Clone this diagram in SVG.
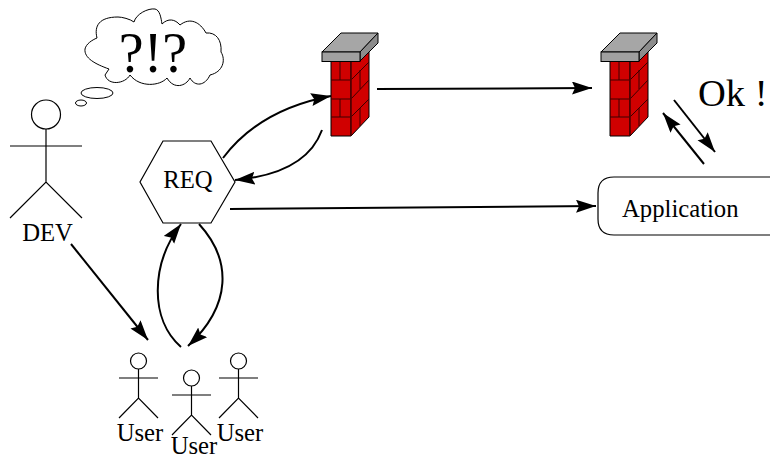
<svg xmlns="http://www.w3.org/2000/svg" width="770" height="459" viewBox="0 0 770 459">
<style>
text{font-family:"Liberation Serif","Times New Roman",serif;fill:#000}
.l{fill:none;stroke:#000;stroke-width:1.2}
.c{fill:none;stroke:#000;stroke-width:2}
.m{fill:none;stroke:#6b0000;stroke-width:1.1}
</style>
<defs>
<marker id="a" markerUnits="userSpaceOnUse" markerWidth="22" markerHeight="14" refX="20" refY="6.500" orient="auto"><path d="M0 0L20 6.500L0 13L3 6.500Z" fill="#000"/></marker>
<g id="wall">
<path d="M31 41H51V116H31Z" fill="#d00000" stroke="#000"/>
<path d="M51 116L69 97V32H51Z" fill="#d00000" stroke="#000"/>
<path d="M31 60H51M31 79H51M31 97H51M40 41V60M40 79V97M51 60L69 42M51 79L69 60M51 97L69 79M60 50V69M60 88V106" stroke="#3a0000" stroke-width="1" fill="none"/>
<path d="M51 41V116" class="m"/>
<path d="M22 32L41 13H78L60 32Z" fill="#a6a6a6" stroke="#000"/>
<path d="M60 32L78 13V23L60 41Z" fill="#8c8c8c" stroke="#000"/>
<rect x="22" y="32" width="38" height="9.500" fill="#a0a0a0" stroke="#000"/>
</g>
<g id="u"><circle cx="0" cy="8" r="8" class="l"/><path d="M0 16V45M-19.500 25H19.500M-19.500 65L0 45L19.500 65" class="l"/></g>
</defs>
<g id="connectors">
<path d="M71 244L148 340" class="c" marker-end="url(#a)"/>
<path d="M223 158C248 125 283 105 331 96" class="c" marker-end="url(#a)"/>
<path d="M322 130C311 160 280 176 235 180" class="c" marker-end="url(#a)"/>
<path d="M230 209L596 206" class="c" marker-end="url(#a)"/>
<path d="M377 89L592 88" class="c" marker-end="url(#a)"/>
<path d="M181 347C150 320 150 265 181 224" class="c" marker-end="url(#a)"/>
<path d="M199 224C232 260 232 305 188 346" class="c" marker-end="url(#a)"/>
<path d="M704 164L663 113" class="c" marker-end="url(#a)"/>
<path d="M674 100L715 152" class="c" marker-end="url(#a)"/>
</g>
<g id="cloud">
<path d="M109 69C95 64 84 58 85 49C86 44 92 40 97 38C94 26 99 17 118 17C122 17 130 19 134 22C136 14 148 8 155 9C160 10 161 18 162 24C168 18 175 19 180 25C190 17 200 22 206 33C216 32 222 40 221 52C226 60 223 72 210 75C205 86 195 87 190 78C186 86 174 90 167 78C160 86 140 88 130 75C125 84 108 86 105 75Z" fill="#fff" stroke="#000" stroke-width="1"/>
<text x="153" y="72" font-size="56" text-anchor="middle">?!?</text>
<ellipse cx="97" cy="93" rx="16" ry="5.500" fill="#fff" stroke="#000"/>
<ellipse cx="81" cy="103" rx="5.500" ry="3" fill="#fff" stroke="#000"/>
</g>
<g id="dev">
<circle cx="46" cy="114.500" r="14.500" class="l"/>
<path d="M46 129V182M10 146H82M10 218L46 182L82 218" class="l"/>
<text x="47.500" y="241" font-size="24.700" text-anchor="middle">DEV</text>
</g>
<g id="req">
<path d="M163 141H211L235 182L211 223H163L140 182Z" fill="#fff" stroke="#000" stroke-width="1.200"/>
<text x="188" y="188" font-size="24.700" text-anchor="middle">REQ</text>
</g>
<g id="firewall1"><use href="#wall" x="300" y="20"/></g>
<g id="firewall2"><use href="#wall" x="579" y="20"/></g>
<text x="698" y="106" font-size="38.500">Ok !</text>
<g id="application">
<path d="M770 177H614Q598 177 598 193V219Q598 235 614 235H770" fill="#fff" stroke="#000" stroke-width="1.200"/>
<text x="622" y="217" font-size="24.700">Application</text>
</g>
<g id="user1"><use href="#u" x="138.500" y="353"/><text x="140" y="441" font-size="24.700" text-anchor="middle">User</text></g>
<g id="user2"><use href="#u" x="191.500" y="370"/><text x="194" y="453.500" font-size="24.700" text-anchor="middle">User</text></g>
<g id="user3"><use href="#u" x="238.500" y="353"/><text x="240" y="441" font-size="24.700" text-anchor="middle">User</text></g>
</svg>
